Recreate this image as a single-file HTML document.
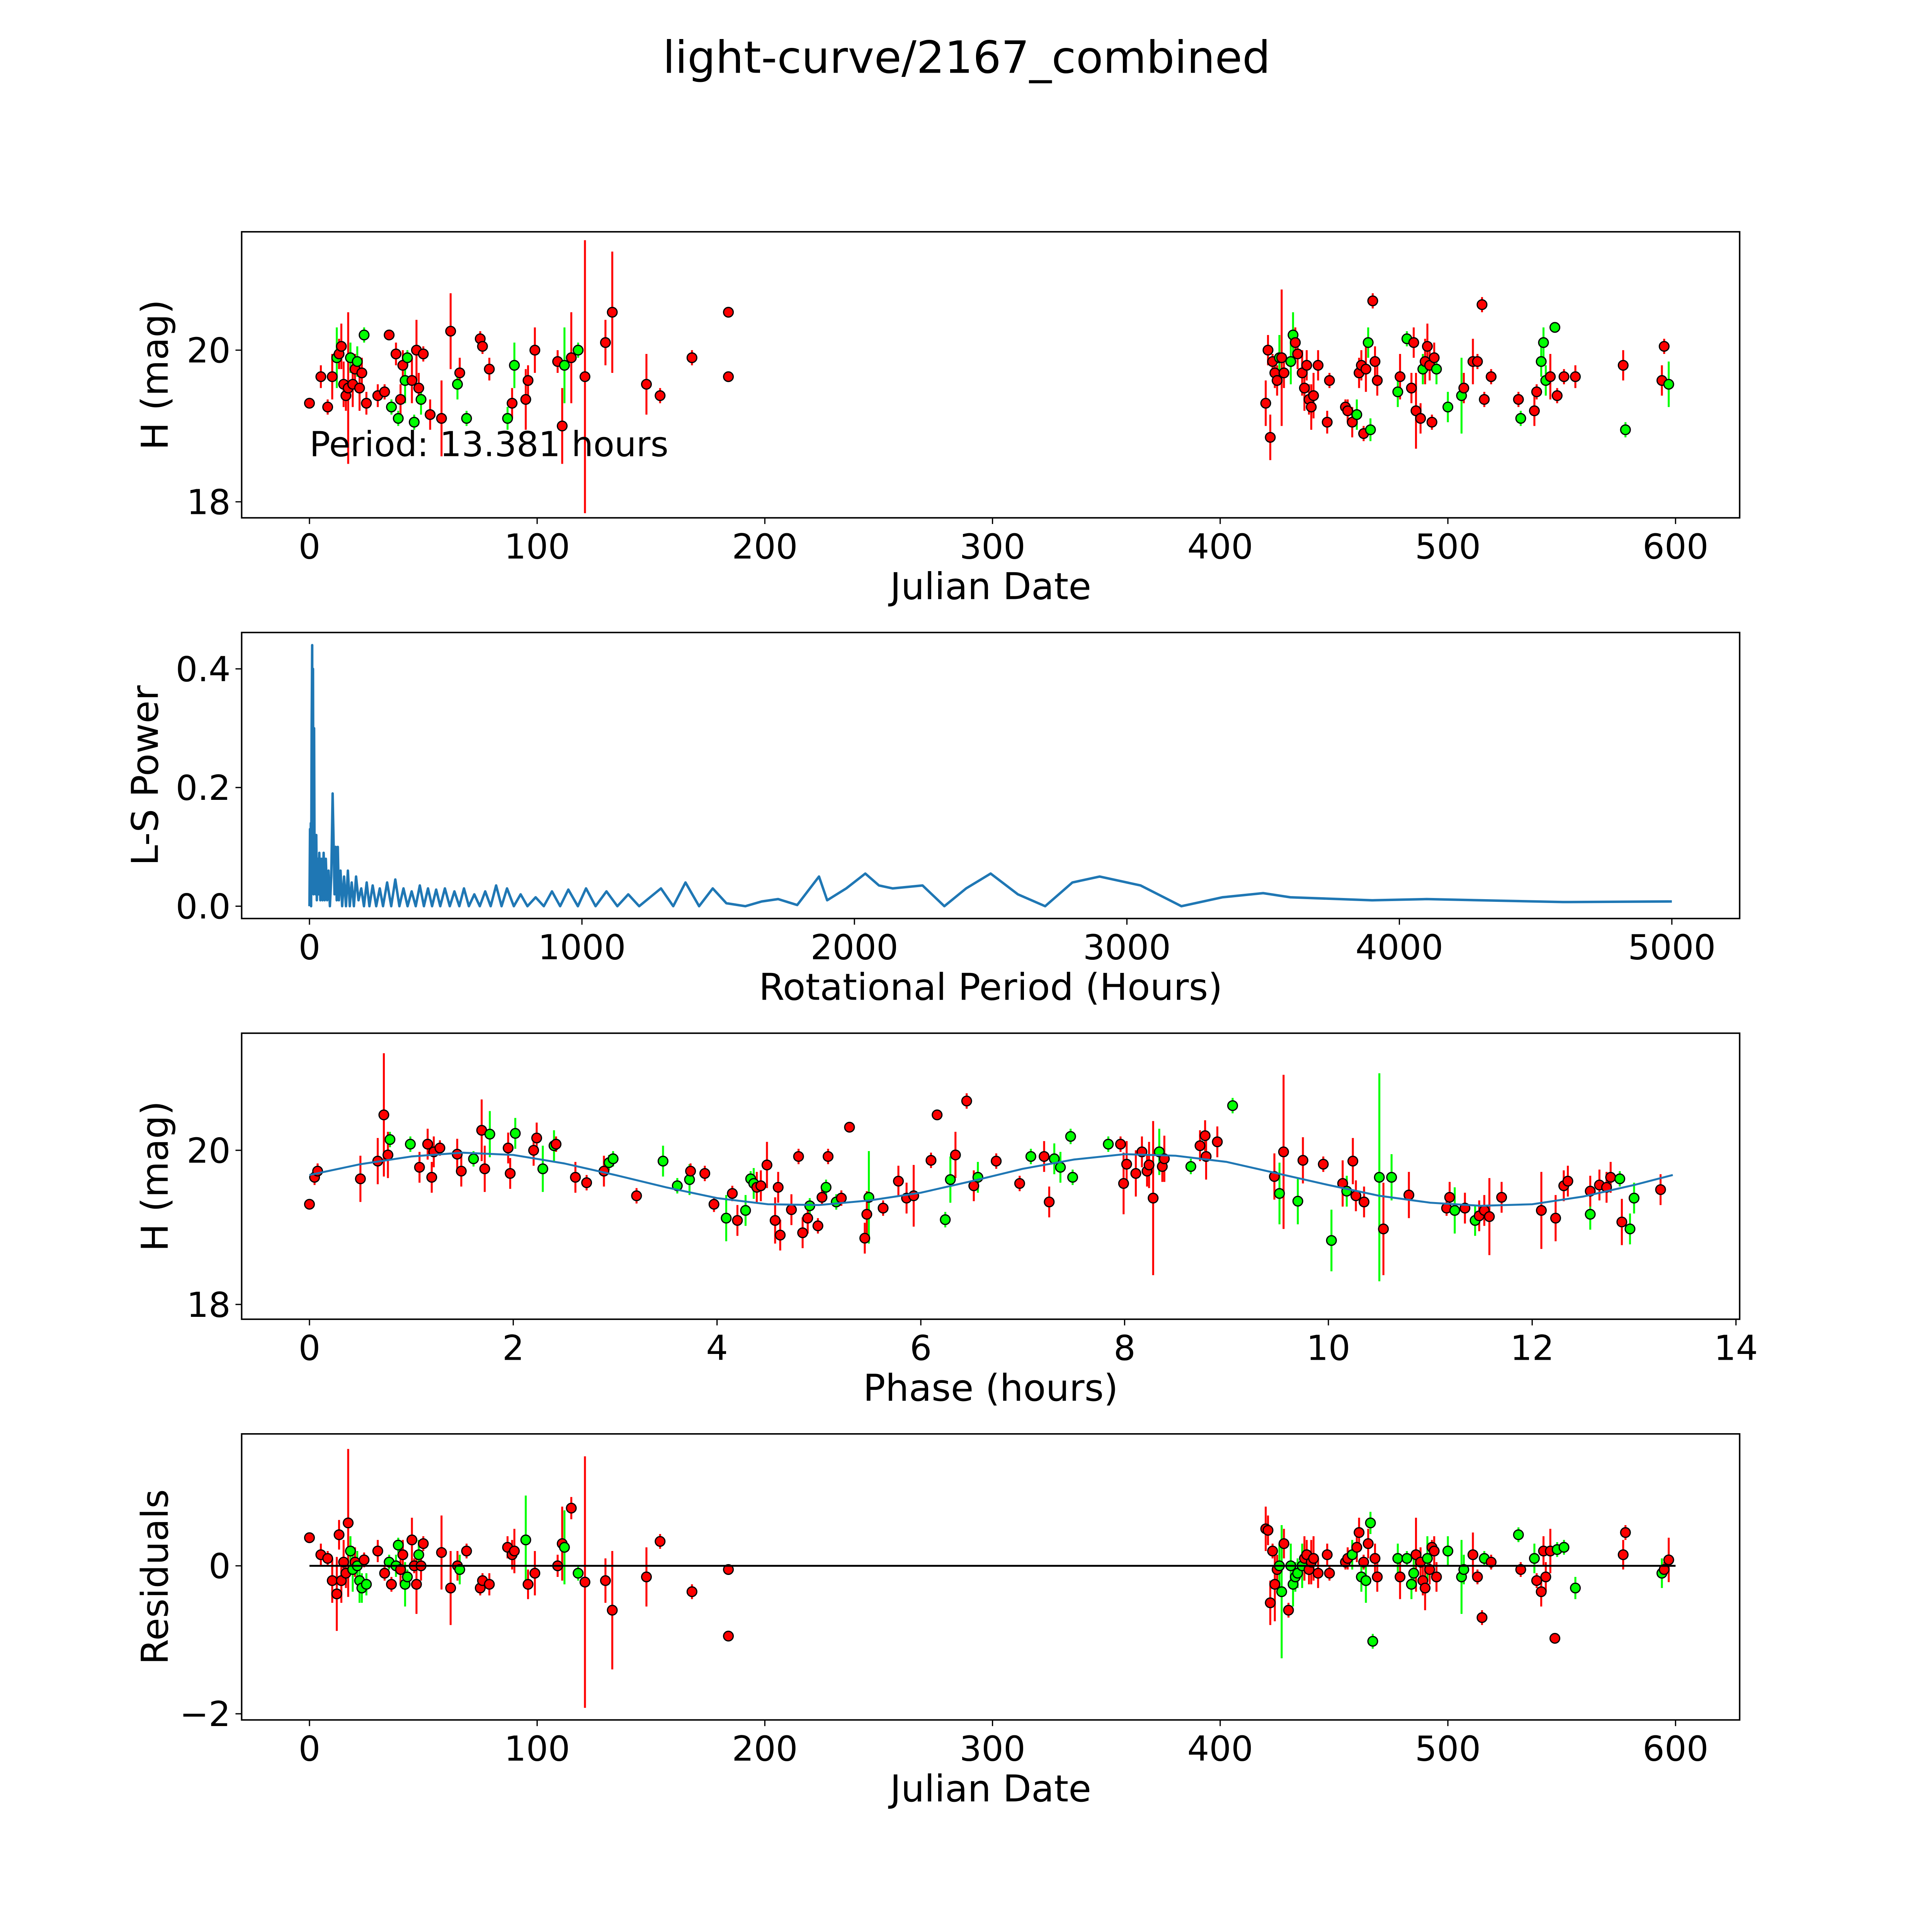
<!DOCTYPE html>
<html><head><meta charset="utf-8">
<style>
html,body{margin:0;padding:0;background:#fff;overflow:hidden;}
svg{display:block;width:100vw;height:100vw;font-family:"DejaVu Sans","Liberation Sans",sans-serif;}
</style></head>
<body>
<svg id="fig" xmlns="http://www.w3.org/2000/svg" viewBox="0 0 1567 1567" preserveAspectRatio="xMinYMin meet">
<rect x="0" y="0" width="1567" height="1567" fill="#fff"/>
<text x="784" y="59" font-size="36" text-anchor="middle">light-curve/2167_combined</text>
</svg>
<script>
// ---------- Panel 1: raw light curve ----------
const lcJD = [0,5,8,10,12,13,14,15,16,17,18,19,20,21,22,23,24,25,30,33,35,36,38,39,40,41,42,43,45,46,47,48,49,50,53,58,62,65,66,69,75,76,79,87,89,90,95,96,99,109,111,112,115,118,121,130,133,148,154,168,184,184,
420,421,422,423,424,425,426,427,428,431,432,433,434,436,437,438,439,440,441,443,447,448,455,456,458,460,461,462,463,464,465,466,467,468,469,478,479,482,484,485,486,488,489,490,491,492,493,494,495,500,506,507,511,513,515,516,519,531,532,538,539,541,542,543,545,547,548,551,556,577,578,594,595,597];
const lcMag = [19.3,19.65,19.25,19.65,19.9,19.95,20.05,19.55,19.4,19.5,19.9,19.55,19.75,19.85,19.5,19.7,20.2,19.3,19.4,19.45,20.2,19.25,19.95,19.1,19.35,19.8,19.6,19.9,19.6,19.05,20.0,19.5,19.35,19.95,19.15,19.1,20.25,19.55,19.7,19.1,20.15,20.05,19.75,19.1,19.3,19.8,19.35,19.6,20.0,19.85,19.0,19.8,19.9,20.0,19.65,20.1,20.5,19.55,19.4,19.9,20.5,19.65,
19.3,20.0,18.85,19.85,19.7,19.6,19.9,19.9,19.7,19.85,20.2,20.1,19.95,19.7,19.5,19.8,19.35,19.25,19.4,19.8,19.05,19.6,19.25,19.2,19.05,19.15,19.7,19.8,18.9,19.75,20.1,18.95,20.65,19.85,19.6,19.45,19.65,20.15,19.5,20.1,19.2,19.1,19.75,19.85,20.05,19.8,19.05,19.9,19.75,19.25,19.4,19.5,19.85,19.85,20.6,19.35,19.65,19.35,19.1,19.2,19.45,19.85,20.1,19.6,19.65,20.3,19.4,19.65,19.65,19.8,18.95,19.6,20.05,19.55];
const lcErr = [0.05,0.15,0.1,0.3,0.4,0.2,0.3,0.3,0.2,1.0,0.2,0.3,0.2,0.2,0.3,0.2,0.1,0.15,0.15,0.1,0.05,0.1,0.15,0.1,0.2,0.2,0.3,0.1,0.3,0.1,0.4,0.2,0.2,0.1,0.2,0.5,0.5,0.2,0.2,0.1,0.1,0.1,0.15,0.15,0.2,0.3,0.4,0.2,0.3,0.15,0.5,0.5,0.6,0.1,1.8,0.3,0.8,0.4,0.1,0.1,0.05,0.05,
0.3,0.2,0.3,0.1,0.2,0.2,0.3,0.9,0.2,0.3,0.3,0.2,0.2,0.3,0.3,0.2,0.2,0.3,0.3,0.2,0.15,0.1,0.1,0.15,0.2,0.2,0.2,0.2,0.1,0.3,0.2,0.15,0.1,0.2,0.2,0.2,0.3,0.1,0.2,0.2,0.5,0.2,0.2,0.3,0.3,0.2,0.1,0.2,0.2,0.2,0.5,0.2,0.3,0.1,0.1,0.1,0.1,0.1,0.1,0.2,0.1,0.2,0.2,0.2,0.3,0.05,0.1,0.1,0.15,0.2,0.1,0.2,0.1,0.3];
const lcBand = "rrrrgrrrrrgrrgrrgrrrrgrgrrggrgrrgrrrrgrgrrrgrgrrrrrgrgrrrrrrrrrrrrrrgrrggrrrrrrrrrrrrrrgrrrrggrrrgrgrrrrgrrrrrgggrrrrrrrgrrgggrgrrrrgrrgrr";

// ---------- Panel 2: Lomb-Scargle periodogram ----------
const lsPeriod = [0,2,3,5,6,8,10,11,13,15,17,19,21,23,25,27,30,33,36,40,44,48,52,56,60,65,70,75,80,85,88,92,96,100,104,108,114,120,127,134,141,148,155,163,171,180,190,200,210,220,232,245,258,270,285,300,315,330,345,360,375,390,405,420,435,450,465,480,497,515,532,550,567,585,605,625,645,665,685,705,725,750,775,800,830,860,890,920,950,985,1015,1050,1090,1130,1170,1210,1250,1290,1335,1380,1430,1480,1530,1600,1660,1720,1790,1870,1900,1970,2040,2090,2140,2250,2330,2410,2500,2600,2700,2800,2900,3050,3200,3350,3500,3600,3900,4100,4300,4600,5000];
const lsPower = [0,0.13,0.02,0.14,0.0,0.3,0.44,0.05,0.4,0.02,0.3,0.03,0.1,0.02,0.12,0.01,0.08,0.02,0.09,0.01,0.08,0.01,0.09,0.01,0.08,0.01,0.06,0.0,0.05,0.19,0.12,0.02,0.1,0.01,0.1,0.01,0.06,0.0,0.05,0.0,0.06,0.0,0.04,0.0,0.05,0.01,0.03,0.0,0.04,0.0,0.035,0.0,0.03,0.0,0.04,0.0,0.045,0.0,0.03,0.0,0.025,0.0,0.035,0.0,0.03,0.0,0.028,0.0,0.03,0.0,0.025,0.0,0.03,0.0,0.02,0.0,0.025,0.0,0.035,0.0,0.03,0.0,0.02,0.0,0.015,0.0,0.025,0.0,0.028,0.0,0.03,0.0,0.025,0.0,0.02,0.0,0.015,0.03,0.0,0.04,0.0,0.03,0.005,0.0,0.008,0.012,0.002,0.05,0.01,0.03,0.055,0.035,0.03,0.035,0.0,0.03,0.055,0.02,0.0,0.04,0.05,0.035,0.0,0.015,0.022,0.015,0.01,0.012,0.01,0.007,0.008,0.01];

// ---------- Panel 3: phased light curve ----------
const phHours = [0.00,0.05,0.08,0.50,0.67,0.73,0.77,0.79,0.99,1.08,1.16,1.20,1.22,1.28,1.45,1.49,1.61,1.69,1.72,1.77,1.95,1.97,2.02,2.20,2.23,2.29,2.40,2.42,2.61,2.72,2.89,2.94,2.98,3.21,3.47,3.61,3.73,3.74,3.88,3.97,4.09,4.15,4.20,4.28,4.33,4.36,4.39,4.43,4.49,4.57,4.60,4.62,4.73,4.80,4.84,4.89,4.91,4.99,5.03,5.07,5.09,5.17,5.22,5.30,5.45,5.47,5.49,5.63,5.78,5.86,5.93,6.10,6.16,6.24,6.29,6.34,6.45,6.52,6.56,6.74,6.97,7.08,7.21,7.26,7.31,7.37,7.47,7.49,7.84,7.96,7.99,8.02,8.11,8.17,8.22,8.24,8.28,8.34,8.37,8.39,8.65,8.74,8.79,8.80,8.91,9.06,9.47,9.52,9.56,9.70,9.75,9.95,10.03,10.14,10.18,10.24,10.27,10.35,10.50,10.54,10.62,10.79,11.16,11.19,11.24,11.34,11.44,11.48,11.53,11.58,11.70,12.09,12.23,12.31,12.35,12.57,12.57,12.66,12.73,12.77,12.86,12.88,12.96,13.00,13.26];
const phMag = [19.30,19.65,19.73,19.63,19.86,20.46,19.94,20.14,20.08,19.78,20.08,19.65,19.98,20.03,19.95,19.73,19.89,20.26,19.76,20.21,20.03,19.70,20.22,20.00,20.16,19.76,20.06,20.08,19.65,19.58,19.73,19.84,19.89,19.41,19.86,19.54,19.62,19.73,19.70,19.30,19.12,19.44,19.09,19.22,19.63,19.57,19.52,19.54,19.81,19.09,19.52,18.90,19.23,19.92,18.93,19.12,19.28,19.02,19.39,19.52,19.92,19.33,19.38,20.30,18.86,19.17,19.39,19.25,19.60,19.38,19.41,19.87,20.46,19.10,19.62,19.94,20.64,19.54,19.65,19.86,19.57,19.92,19.92,19.33,19.89,19.78,20.18,19.65,20.08,20.08,19.57,19.82,19.70,19.98,19.73,19.81,19.38,19.98,19.79,19.89,19.79,20.06,20.19,19.92,20.11,20.58,19.66,19.44,19.98,19.34,19.87,19.82,18.83,19.57,19.47,19.86,19.41,19.33,19.65,18.98,19.65,19.42,19.25,19.39,19.22,19.25,19.09,19.15,19.22,19.14,19.39,19.22,19.12,19.54,19.60,19.17,19.47,19.55,19.52,19.65,19.63,19.07,18.98,19.38,19.49];
const phErr = [0.05,0.1,0.1,0.3,0.3,0.8,0.3,0.1,0.1,0.2,0.2,0.2,0.2,0.1,0.2,0.2,0.1,0.4,0.3,0.3,0.2,0.2,0.2,0.2,0.2,0.3,0.2,0.1,0.2,0.1,0.2,0.1,0.1,0.1,0.2,0.1,0.2,0.1,0.1,0.1,0.3,0.1,0.2,0.2,0.1,0.2,0.2,0.2,0.3,0.3,0.2,0.2,0.2,0.1,0.2,0.2,0.1,0.1,0.1,0.1,0.1,0.1,0.1,0.05,0.2,0.3,0.6,0.1,0.2,0.2,0.4,0.1,0.05,0.1,0.3,0.3,0.1,0.2,0.2,0.1,0.1,0.1,0.2,0.2,0.2,0.2,0.1,0.1,0.1,0.1,0.4,0.3,0.3,0.2,0.2,0.3,1.0,0.3,0.2,0.3,0.1,0.2,0.2,0.3,0.2,0.1,0.3,0.4,1.0,0.3,0.3,0.1,0.4,0.3,0.2,0.3,0.2,0.2,1.35,0.6,0.3,0.3,0.1,0.2,0.3,0.2,0.2,0.2,0.2,0.5,0.2,0.5,0.3,0.2,0.2,0.2,0.2,0.2,0.2,0.2,0.1,0.3,0.2,0.2,0.2];
const phBand = "rrrrrrrggrrrrrrrgrrgrrgrrggrrrrggrgggrrrgrrgggrrrrrrrrrrgrrgrgrrrrgrrrrrrggrrrgrrgrrgggggrrrrrrrrgrrgrrrrgrgrgrrgrgrrrgrgrrrgrgrrrrrrrrgrrrrgrggrr";
const fitPhase = [0,0.5,1.0,1.5,2.0,2.5,3.0,3.5,4.0,4.5,5.0,5.5,6.0,6.5,7.0,7.5,8.0,8.5,9.0,9.5,10.0,10.5,11.0,11.5,12.0,12.5,13.0,13.38];
const fitMag = [19.68,19.82,19.92,19.97,19.94,19.83,19.68,19.52,19.38,19.30,19.29,19.35,19.45,19.60,19.76,19.88,19.95,19.93,19.85,19.70,19.55,19.41,19.32,19.28,19.30,19.40,19.55,19.68];

// ---------- Panel 4: residuals ----------
const resJD = [0,5,8,10,12,13,14,15,16,17,18,19,20,21,22,23,24,25,30,33,35,36,38,39,40,41,42,43,45,46,47,48,49,50,58,62,65,66,69,75,76,79,87,89,90,95,96,99,109,111,112,115,118,121,130,133,148,154,168,184,184,
420,421,422,423,424,425,426,427,428,430,431,432,433,434,436,437,438,439,440,441,443,447,448,455,456,458,460,461,462,463,464,465,466,467,468,469,478,479,482,484,485,486,488,489,490,491,492,493,494,495,500,506,507,511,513,515,516,519,531,532,538,539,541,542,543,545,547,548,551,556,577,578,594,595,597];
const resVal = [0.38,0.15,0.1,-0.2,-0.38,0.42,-0.2,0.05,-0.1,0.58,0.2,-0.05,0.05,0.0,-0.2,-0.3,0.08,-0.25,0.2,-0.1,0.05,-0.25,0.0,0.28,-0.05,0.15,-0.25,-0.15,0.35,0.0,-0.25,0.15,0.0,0.3,0.18,-0.3,0.0,-0.05,0.2,-0.3,-0.2,-0.25,0.25,0.15,0.2,0.35,-0.25,-0.1,0.0,0.3,0.25,0.78,-0.1,-0.22,-0.2,-0.6,-0.15,0.33,-0.35,-0.05,-0.95,
0.5,0.48,-0.5,0.2,-0.25,-0.05,0.0,-0.35,0.3,-0.6,0.0,-0.25,-0.15,-0.1,0.0,0.1,0.15,-0.05,0.05,0.1,-0.1,0.15,-0.1,0.05,0.1,0.15,0.25,0.45,-0.15,0.05,-0.2,0.3,0.58,-1.02,0.1,-0.15,0.1,-0.15,0.1,-0.25,-0.1,0.15,0.05,-0.2,-0.3,0.1,-0.05,0.25,0.2,-0.15,0.2,-0.15,-0.05,0.15,-0.15,-0.7,0.1,0.05,0.42,-0.05,0.1,-0.2,-0.35,0.2,-0.15,0.2,-0.98,0.22,0.25,-0.3,0.15,0.45,-0.1,-0.05,0.08];
const resErr = [0.05,0.15,0.1,0.3,0.5,0.2,0.3,0.3,0.2,1.0,0.2,0.3,0.2,0.2,0.3,0.2,0.1,0.15,0.15,0.1,0.1,0.1,0.15,0.1,0.2,0.2,0.3,0.1,0.3,0.1,0.4,0.2,0.2,0.1,0.5,0.5,0.2,0.2,0.1,0.1,0.1,0.15,0.15,0.2,0.3,0.6,0.2,0.3,0.15,0.5,0.5,0.15,0.1,1.7,0.3,0.8,0.4,0.1,0.1,0.05,0.05,
0.3,0.2,0.3,0.1,0.5,0.2,0.3,0.9,0.2,0.1,0.3,0.3,0.2,0.2,0.3,0.3,0.2,0.2,0.3,0.3,0.2,0.15,0.1,0.1,0.15,0.2,0.2,0.2,0.2,0.1,0.3,0.2,0.15,0.1,0.2,0.2,0.2,0.3,0.1,0.2,0.2,0.5,0.2,0.2,0.3,0.3,0.2,0.1,0.2,0.2,0.2,0.5,0.2,0.3,0.1,0.1,0.1,0.1,0.1,0.1,0.2,0.1,0.2,0.2,0.2,0.3,0.05,0.1,0.1,0.15,0.2,0.1,0.2,0.1,0.3];
const resBand = "rrrrrrrrrrggrgggrgrrgrggrrggrrrgrrrrrgrrrrrrrgrrrrgrgrrrrrrrr"+"rrrrrrggrrgggggrrrrrrrrrrgrrgrgrggrrgrgggrrrrgrrrrgggrrrgrgrgrrrrrrgggrrgrrrrrrr";

// ---------- tick labels ----------
const jdTicks = [0,100,200,300,400,500,600];
const magTicks = [18,20];
const lsXTicks = [0,1000,2000,3000,4000,5000];
const lsYTicks = [0.0,0.2,0.4];
const lsYLabels = ["0.0","0.2","0.4"];
const phTicks = [0,2,4,6,8,10,12,14];
const resTicks = [-2,0];
const resLabels = ["\u22122","0"];

const NS = "http://www.w3.org/2000/svg";
const fig = document.getElementById('fig');
function el(tag, attrs, parent){const e=document.createElementNS(NS,tag);for(const k in attrs)e.setAttribute(k,attrs[k]);(parent||fig).appendChild(e);return e;}
function lin(d0,d1,p0,p1){return v=>p0+(v-d0)*(p1-p0)/(d1-d0);}

const L=196,R=1411;
function makeAxes(name,top,bot,sx,sy,xt,xl,yt,yl,xlabel,ylabel,ylabX){
  const g=el('g',{});
  
  
  const clipId=name+'-clip';
  const cp=el('clipPath',{id:clipId},g); el('rect',{x:L,y:top,width:R-L,height:bot-top},cp);
  const plot=el('g',{'clip-path':'url(#'+clipId+')'},g);
  
  
  xt.forEach((v,i)=>{const x=sx(v);
    el('line',{x1:x,x2:x,y1:bot,y2:bot+5,stroke:'#000','stroke-width':1},g);
    const t=el('text',{x:x,y:bot+33,'font-size':28,'text-anchor':'middle'},g);t.textContent=xl[i];
    
    });
  yt.forEach((v,i)=>{const y=sy(v);
    el('line',{x1:L-5,x2:L,y1:y,y2:y,stroke:'#000','stroke-width':1},g);
    const t=el('text',{x:L-9,y:y+10,'font-size':28,'text-anchor':'end'},g);t.textContent=yl[i];
    
    });
  const xa=el('text',{x:(L+R)/2,y:bot+66,'font-size':30,'text-anchor':'middle'},g);xa.textContent=xlabel;
  
  
  const ya=el('text',{x:ylabX,y:(top+bot)/2,'font-size':30,'text-anchor':'middle',transform:'rotate(-90 '+ylabX+' '+(top+bot)/2+')'},g);ya.textContent=ylabel;
  
  
  return {g,plot,frame:()=>{const f=el('rect',{x:L,y:top,width:R-L,height:bot-top,fill:'none',stroke:'#000','stroke-width':1.2},g);
    
    }};
}
function errPoints(ax,xs,ys,es,bands,sx,sy){
  const col={r:'#ff0000',g:'#00ff00'};
  xs.forEach((x,i)=>{const c=col[bands[i]]||'#ff0000';
    const ln=el('line',{x1:sx(x),x2:sx(x),y1:sy(ys[i]-es[i]),y2:sy(ys[i]+es[i]),stroke:c,'stroke-width':1.6},ax.plot);
    
    });
  xs.forEach((x,i)=>{const c=col[bands[i]]||'#ff0000';
    const p=el('circle',{cx:sx(x),cy:sy(ys[i]),r:3.9,fill:c,stroke:'#000','stroke-width':1},ax.plot);
    
    });
}

// Panel 1
{const top=188,bot=420;const sx=lin(0,600,251,1359), sy=lin(20,18,284,407);
 const ax=makeAxes('raw-light-curve-panel',top,bot,sx,sy,jdTicks,jdTicks.map(String),magTicks,magTicks.map(String),'Julian Date','H (mag)',136);
 errPoints(ax,lcJD,lcMag,lcErr,lcBand,sx,sy);
 const t=el('text',{x:251,y:370,'font-size':28},ax.g);t.textContent='Period: 13.381 hours';
 
 
 ax.frame();}
// Panel 2
{const top=513,bot=745;const sx=lin(0,5000,251,1356), sy=lin(0,0.4,735,542.5);
 const ax=makeAxes('periodogram-panel',top,bot,sx,sy,lsXTicks,lsXTicks.map(String),lsYTicks,lsYLabels,'Rotational Period (Hours)','L-S Power',128);
 const pts=lsPeriod.map((p,i)=>sx(p).toFixed(2)+','+sy(lsPower[i]).toFixed(2)).join(' ');
 const pl=el('polyline',{points:pts,fill:'none',stroke:'#1f77b4','stroke-width':2,'stroke-linejoin':'round'},ax.plot);
 
 
 ax.frame();}
// Panel 3
{const top=838,bot=1070;const sx=lin(0,14,251,1408), sy=lin(20,18,933,1058);
 const ax=makeAxes('phased-light-curve-panel',top,bot,sx,sy,phTicks,phTicks.map(String),magTicks,magTicks.map(String),'Phase (hours)','H (mag)',136);
 errPoints(ax,phHours,phMag,phErr,phBand,sx,sy);
 const pts=fitPhase.map((p,i)=>sx(p).toFixed(2)+','+sy(fitMag[i]).toFixed(2)).join(' ');
 const pl=el('polyline',{points:pts,fill:'none',stroke:'#1f77b4','stroke-width':1.6,'stroke-linejoin':'round'},ax.plot);
 
 
 ax.frame();}
// Panel 4
{const top=1163,bot=1395;const sx=lin(0,600,251,1359), sy=lin(0,-2,1270,1390);
 const ax=makeAxes('residuals-panel',top,bot,sx,sy,jdTicks,jdTicks.map(String),resTicks,resLabels,'Julian Date','Residuals',136);
 errPoints(ax,resJD,resVal,resErr,resBand,sx,sy);
 const zl=el('line',{x1:sx(0),x2:sx(600),y1:sy(0),y2:sy(0),stroke:'#000','stroke-width':1.5},ax.plot);
 
 
 ax.frame();}
</script>
</body></html>
